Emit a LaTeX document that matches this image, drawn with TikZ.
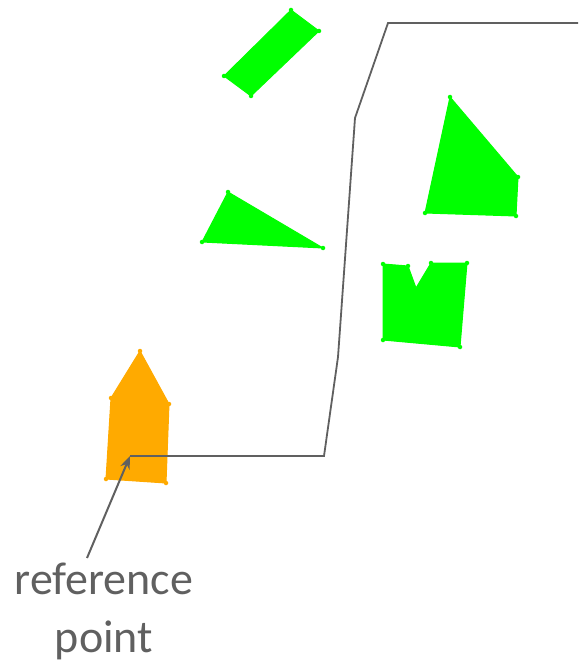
\documentclass[tikz,border=0pt]{standalone}
\usepackage{fontspec}
\setmainfont{Carlito}
\usetikzlibrary{arrows.meta}
\definecolor{shapegreen}{RGB}{0,255,0}
\definecolor{shapeorange}{RGB}{255,170,0}
\definecolor{linegray}{RGB}{96,96,96}
\tikzset{
  greenshape/.style={fill=shapegreen,draw=shapegreen,line width=1pt,line join=round},
  orangeshape/.style={fill=shapeorange,draw=shapeorange,line width=1pt,line join=round},
  vdot/.style={circle,fill=#1,inner sep=0pt,minimum size=4.5pt},
  pathline/.style={draw=linegray,line width=1.8pt},
  labeltext/.style={text=linegray,font=\fontsize{46}{58}\selectfont,align=center,inner sep=0pt}
}
\begin{document}
\begin{tikzpicture}[x=1pt,y=-1pt]
\useasboundingbox (0,0) rectangle (578,663);
% green rectangle
\filldraw[greenshape] (291,10) -- (319,31) -- (251,96) -- (224,76) -- cycle;
\foreach \p in {(291,10),(319,31),(251,96),(224,76)} \node[vdot=shapegreen] at \p {};
% green triangle
\filldraw[greenshape] (228,192) -- (323,248) -- (202,242) -- cycle;
\foreach \p in {(228,192),(323,248),(202,242)} \node[vdot=shapegreen] at \p {};
% green quad
\filldraw[greenshape] (450,97) -- (518,177) -- (516,216) -- (425,213) -- cycle;
\foreach \p in {(450,97),(518,177),(516,216),(425,213)} \node[vdot=shapegreen] at \p {};
% green notched shape
\filldraw[greenshape] (383,264) -- (408,266) -- (416,288) -- (431,263) -- (467,263) -- (460,347) -- (383,340) -- cycle;
\foreach \p in {(383,264),(408,266),(431,263),(467,263),(460,347),(383,340)} \node[vdot=shapegreen] at \p {};
% orange house
\filldraw[orangeshape] (140,351) -- (169,404) -- (166,483) -- (106,479) -- (111,398) -- cycle;
\foreach \p in {(140,351),(169,404),(166,483),(106,479),(111,398)} \node[vdot=shapeorange] at \p {};
% reference point and path
\coordinate (ref) at (130,456);
\coordinate (p1) at (324,456);
\coordinate (p2) at (338,357);
\coordinate (p3) at (355,118);
\coordinate (p4) at (388,23);
\coordinate (p5) at (578,23);
\draw[pathline,line join=miter] (ref) -- (p1) -- (p2) -- (p3) -- (p4) -- (p5);
\node[labeltext] (lbl) at (104,611) {reference\\point};
\coordinate (arrstart) at (87,558);
\draw[draw=linegray,line width=2pt,-{Stealth[length=13pt,width=10pt]}] (arrstart) -- (ref);
\end{tikzpicture}
\end{document}
